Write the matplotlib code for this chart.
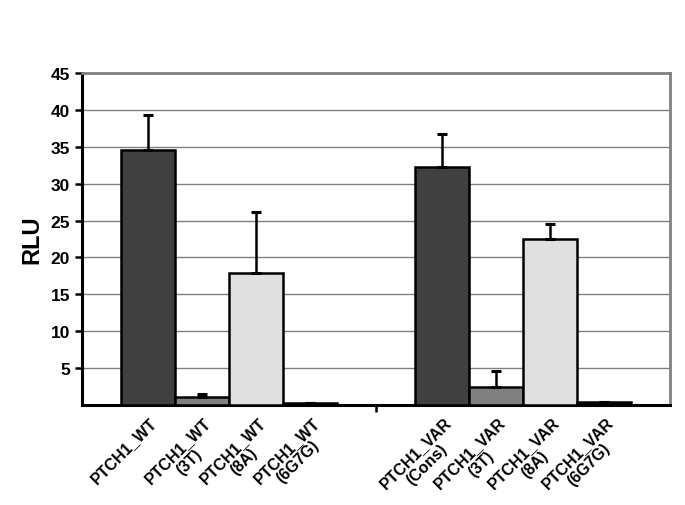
import numpy as np
import matplotlib.pyplot as plt

plt.rcParams['font.family'] = ['Liberation Sans', 'DejaVu Sans']

# data
groups = ["WT", "VAR"]
labels = [
    ["PTCH1_WT", "PTCH1_WT\n(3T)", "PTCH1_WT\n(8A)", "PTCH1_WT\n(6G7G)"],
    ["PTCH1_VAR\n(Cons)", "PTCH1_VAR\n(3T)", "PTCH1_VAR\n(8A)", "PTCH1_VAR\n(6G7G)"],
]
values = np.array([
    [34.6, 1.1, 17.9, 0.25],
    [32.2, 2.5, 22.5, 0.35],
])
errors = np.array([
    [4.7, 0.4, 8.2, 0.0],
    [4.5, 2.1, 2.1, 0.0],
])
colors = ["#404040", "#808080", "#e0e0e0", "#000000"]

fig = plt.figure(figsize=(6.85, 5.06), dpi=100)
ax = fig.add_axes([0.1197, 0.1976, 0.8583, 0.6562])

w = 0.184
x = np.arange(len(groups))
for i in range(4):
    xi = x + (i - 1.5) * w
    ax.bar(xi, values[:, i], width=w, color=colors[i], edgecolor="black",
           linewidth=1.8, zorder=3)
    ax.errorbar(xi, values[:, i], yerr=[np.zeros(2), errors[:, i]], fmt="none",
                ecolor="black", elinewidth=1.8, capsize=3.5, capthick=2.2, zorder=4)
    for g in range(len(groups)):
        ax.text(xi[g] + 0.005, -1.2, labels[g][i], rotation=45, rotation_mode="anchor",
                ha="right", va="top", multialignment="center", linespacing=1.1,
                fontsize=11.5, fontweight="bold", clip_on=False)

ax.set_xlim(-0.5, 1.5)
ax.set_ylim(0, 45)
ax.set_yticks(np.arange(5, 50, 5))
ax.set_yticklabels([str(v) for v in range(5, 50, 5)], fontsize=12.5, fontweight="bold")
ax.set_xticks([0.5])
ax.set_xticklabels([""])
ax.tick_params(axis="both", direction="out", length=5, width=1.8, color="black")
ax.yaxis.grid(True, color="#808080", linewidth=1.0, zorder=0)
ax.set_axisbelow(True)
ax.set_ylabel("RLU", fontsize=17, fontweight="bold", labelpad=5)

for side in ["left", "bottom"]:
    ax.spines[side].set_color("black")
    ax.spines[side].set_linewidth(2.2)
for side in ["top", "right"]:
    ax.spines[side].set_color("#808080")
    ax.spines[side].set_linewidth(2)

fig.savefig("out.png", dpi=100)
